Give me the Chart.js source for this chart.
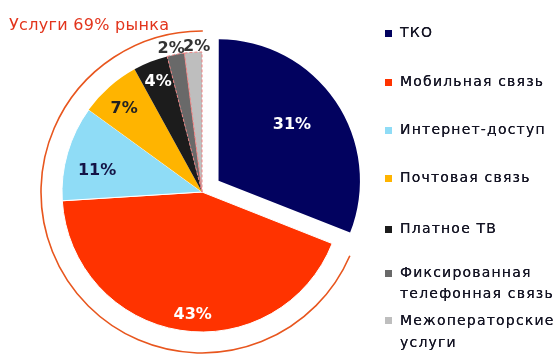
<!DOCTYPE html>
<html>
<head>
<meta charset="utf-8">
<script src="https://cdn.jsdelivr.net/npm/chart.js@4.4.0/dist/chart.umd.min.js"></script>
<style>
  body { margin: 0; background: #fff; }
  #wrap { position: relative; width: 558px; height: 354px; }
  #title { position: absolute; left: 9px; top: 15px; font: 16px "DejaVu Sans", sans-serif; color: #e2341c; letter-spacing: 0.3px; }
  #legend { position: absolute; left: 0; top: 0; }
  .leg { position: absolute; left: 385px; font: 14px "DejaVu Sans", sans-serif; color: #141424; letter-spacing: 1.2px; white-space: nowrap; text-shadow: 0 0 0.4px #141424; }
  .leg i { position: absolute; left: 0; width: 7px; height: 7px; }
  .leg span { display: block; margin-left: 15px; }
</style>
</head>
<body>
<div id="wrap">
  <canvas id="pie" width="558" height="354"></canvas>
  <div id="title">Услуги 69% рынка</div>
  <div id="legend"></div>
</div>
<script>
// доли рынка, %
var segmenty = ['ТКО', 'Мобильная связь', 'Интернет-доступ', 'Почтовая связь', 'Платное ТВ',
                'Фиксированная телефонная связь', 'Межоператорские услуги'];
var legendaTexty = [['ТКО'], ['Мобильная  связь'], ['Интернет-доступ'], ['Почтовая  связь'], ['Платное ТВ'],
                    ['Фиксированная', 'телефонная  связь'], ['Межоператорские', 'услуги']];
var doli = [31, 43, 11, 7, 4, 2, 2];
var cveta = ['#02025f', '#ff3300', '#8fdcf6', '#ffb400', '#1c1c1c', '#696969', '#bebebe'];
var cvetaTexta = ['#ffffff', '#ffffff', '#141446', '#222222', '#ffffff', '#333333', '#333333'];

// где стоят подписи (доля радиуса) и поправки по x / y
var podpisR = [0.66, 0.88, 0.78, 0.82, 0.87, 1.06, 1.06];
var podpisDx = [-3, 10, 0, -2, 1, -3, 4];
var podpisDy = [-4, 1, 9, 3, 3, 3, 3];

// легенда справа: верх строки и межстрочный интервал
var legTop = [22, 71, 119, 167, 218, 262, 309];
var legLine = [21, 21, 21, 21, 21, 21, 22];
var legHtml = '';
for (var i = 0; i < legendaTexty.length; i++) {
    legHtml += '<div class="leg" style="top:' + legTop[i] + 'px;line-height:' + legLine[i] + 'px">' +
        '<i style="top:' + (legLine[i] / 2 - 3) + 'px;background:' + cveta[i] + '"></i>' +
        '<span>' + legendaTexty[i].join('<br>') + '</span></div>';
}
document.getElementById('legend').innerHTML = legHtml;

var uslugiPlugin = {
    id: 'uslugi',
    afterDatasetsDraw: function (chart) {
        var ctx = chart.ctx;
        var meta = chart.getDatasetMeta(0);
        var tko = meta.data[0];
        var cx = tko.x, cy = tko.y, R = tko.outerRadius;

        // дуга вокруг услуг
        ctx.save();
        ctx.strokeStyle = '#e8561e';
        ctx.lineWidth = 1.6;
        ctx.beginPath();
        ctx.arc(cx, cy, R + 21, tko.endAngle + 0.03, tko.startAngle + 2 * Math.PI + 0.005);
        ctx.stroke();

        // проценты на секторах
        ctx.font = 'bold 16px "DejaVu Sans", sans-serif';
        ctx.textAlign = 'center';
        ctx.textBaseline = 'middle';
        meta.data.forEach(function (arc, i) {
            var mid = (arc.startAngle + arc.endAngle) / 2;
            // сдвиг сектора в Chart.js v4 рисуется как offset / 4
            var d = R * podpisR[i] + (arc.options.offset || 0) / 4;
            ctx.fillStyle = cvetaTexta[i];
            ctx.fillText(doli[i] + '%', cx + Math.cos(mid) * d + podpisDx[i], cy + Math.sin(mid) * d + podpisDy[i]);
        });
        ctx.restore();
    }
};

var ctx = document.getElementById('pie').getContext('2d');
var pie = new Chart(ctx, {
    type: 'pie',
    data: {
        labels: segmenty,
        datasets: [{
            data: doli,
            backgroundColor: cveta,
            borderColor: ['#ffffff', '#ffffff', '#ffffff', '#ffffff', '#ffffff', '#f08080', '#f08080'],
            borderWidth: [0, 1, 1, 0, 0, 1, 1],
            borderDash: function (c) { return c.dataIndex >= 5 ? [3, 2] : []; },
            offset: [80, 0, 0, 0, 0, 0, 0],
            hoverOffset: 0
        }]
    },
    options: {
        responsive: false,
        animation: false,
        radius: 140,
        layout: { padding: { left: 20, right: 174, top: 40, bottom: 10 } },
        plugins: {
            legend: { display: false },
            tooltip: { enabled: false }
        }
    },
    plugins: [uslugiPlugin]
});
</script>
</body>
</html>
